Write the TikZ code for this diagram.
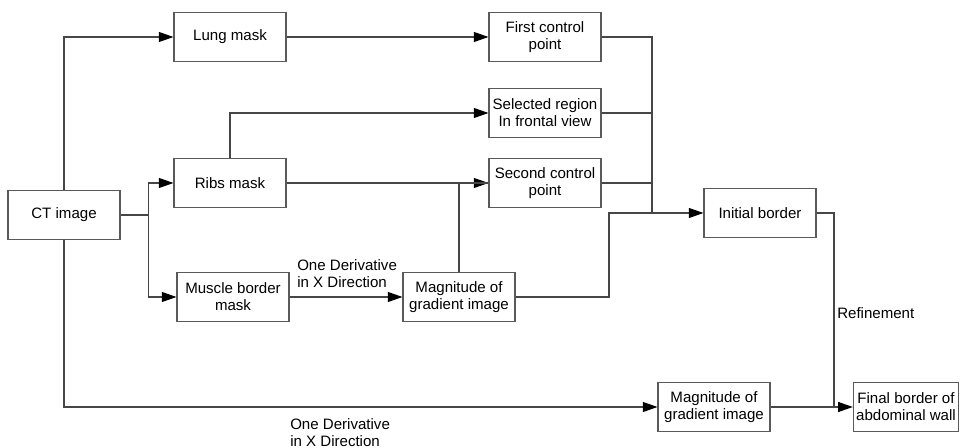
\documentclass[tikz,border=0pt]{standalone}
\usepackage{fontspec}
\setmainfont{Liberation Sans}
\usepackage{tikz}
\usetikzlibrary{arrows.meta,positioning,calc}
\definecolor{boxgray}{RGB}{90,90,90}
\definecolor{linegray}{RGB}{70,70,70}

\begin{document}
\begin{tikzpicture}[x=0.75pt, y=-0.75pt,
    box/.style={draw=boxgray, line width=0.8pt, rectangle, minimum width=84pt, minimum height=37pt, align=center, inner sep=1pt, font=\fontsize{11.3}{12.8}\selectfont},
    lbl/.style={align=left, inner sep=0pt, font=\fontsize{11.3}{12.8}\selectfont},
    link/.style={draw=linegray, line width=0.8pt},
    >={Triangle[length=11pt, width=7.5pt, color=black]}]
    \useasboundingbox (0,0) rectangle (960,448);

    \node [box] (ct) at (64,215) {CT image};
    \node [box] (lung) at (230,37) {Lung mask};
    \node [box] (ribs) at (230,183) {Ribs mask};
    \node [box] (muscle) at (233,297) {Muscle border\\mask};
    \node [box] (first) at (545,37) {First control\\point};
    \node [box] (selected) at (545,113) {Selected region\\In frontal view};
    \node [box] (second) at (545,183) {Second control\\point};
    \node [box] (gradmid) at (459,297) {Magnitude of\\gradient image};
    \node [box] (initial) at (760,213) {Initial border};
    \node [box] (gradlow) at (714,407) {Magnitude of\\gradient image};
    \node [box, minimum width=79pt] (final) at (906,407) {Final border of\\abdominal wall};

    \coordinate (split) at ($(ct.east)+(28,0)$);
    \coordinate (join) at (652,213);

    % from CT image
    \draw [link, ->] (ct.north) |- (lung.west);
    \draw [link] (ct.east) -- (split);
    \draw [link, ->] (split) |- (ribs.west);
    \draw [link, ->] (split) |- (muscle.west);
    \draw [link, ->] (ct.south) |- (gradlow.west);
    \node [lbl, anchor=north west] (derivlow) at (290,418) {One Derivative\\in X Direction};

    % masks to control points
    \draw [link, ->] (lung.east) -- (first.west);
    \draw [link, ->] (ribs.north) |- (selected.west);
    \draw [link, ->] (ribs.east) -- (second.west);
    \draw [link, ->] (muscle.east) -- (gradmid.west);
    \node [lbl, anchor=north west] (derivmid) at (297,259) {One Derivative\\in X Direction};
    \draw [link] (gradmid.north) |- (second.west);

    % to initial border
    \draw [link] (first.east) -| (join);
    \draw [link] (selected.east) -| (join);
    \draw [link] (second.east) -| (join);
    \draw [link, ->] (join) -- (initial.west);
    \draw [link] (gradmid.east) -| (609,213) -- (join);

    % refinement
    \draw [link, ->] (initial.east) -| (834,407) -- (final.west);
    \node [lbl, anchor=west] (refine) at (837,313) {Refinement};
    \draw [link] (gradlow.east) -- (834,407);
\end{tikzpicture}
\end{document}
